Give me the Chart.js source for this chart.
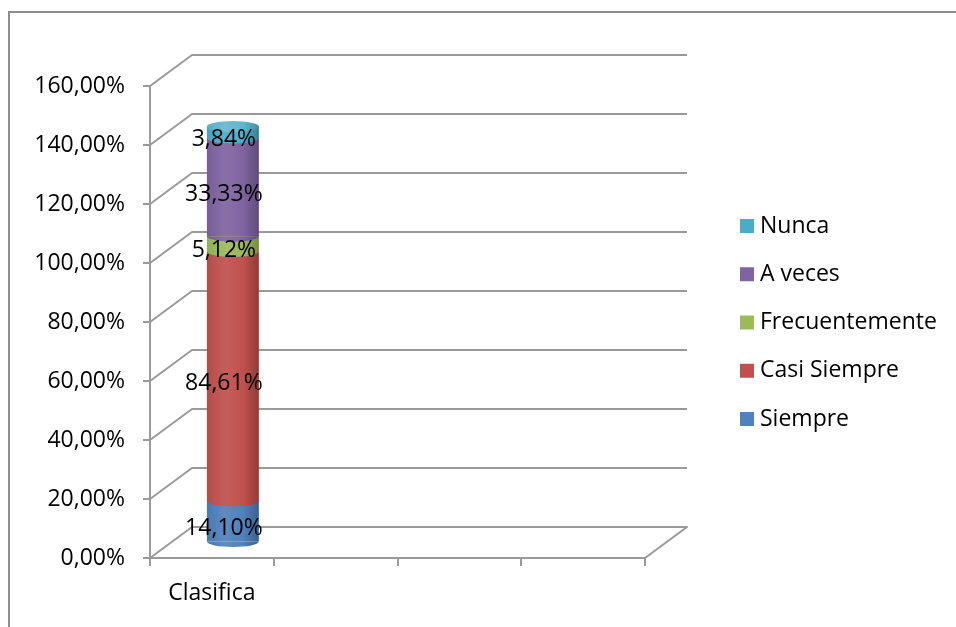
<!DOCTYPE html>
<html>
<head>
<meta charset="utf-8">
<script src="https://cdn.jsdelivr.net/npm/chart.js@4.4.0/dist/chart.umd.min.js"></script>
<style>
  html, body { margin: 0; padding: 0; background: #fff; overflow: hidden; }
  #wrap { position: relative; width: 956px; height: 627px; }
  #frame { position: absolute; left: 8px; top: 11px; width: 1000px; height: 700px;
           border: 2px solid #8c8c8c; pointer-events: none; }
  canvas { position: absolute; left: 0; top: 0; }
</style>
</head>
<body>
<div id="wrap">
  <canvas id="chartCanvas" width="956" height="627"></canvas>
  <div id="frame"></div>
</div>
<script>
//data
const categories = ["Clasifica", "", "", ""];
const seriesNames = ["Siempre", "Casi Siempre", "Frecuentemente", "A veces", "Nunca"];
const seriesValues = [14.10, 84.61, 5.12, 33.33, 3.84];
const seriesColors = ["#4F81BD", "#C0504D", "#9BBB59", "#8064A2", "#4BACC6"];
const yMin = 0;
const yMax = 160;
const yStep = 20;

//3d look
const depthX = 42;
const depthY = -31;
const barPct = 0.42;
const capRy = 5.5;
const gridColor = "#9a9a9a";

function pct(v) {
  return v.toFixed(2).replace(".", ",") + "%";
}

function shade(hex, f) {
  const n = parseInt(hex.slice(1), 16);
  let r = (n >> 16) & 255, g = (n >> 8) & 255, b = n & 255;
  const m = (c) => Math.max(0, Math.min(255, Math.round(f >= 1 ? c + (255 - c) * (f - 1) : c * f)));
  return "rgb(" + m(r) + "," + m(g) + "," + m(b) + ")";
}

function cylGrad(chart, color, light) {
  const ca = chart.chartArea;
  if (!ca) return color;
  const cx = chart.scales.x.getPixelForValue(0);
  const half = (ca.width / categories.length) * barPct / 2;
  const g = chart.ctx.createLinearGradient(cx - half, 0, cx + half, 0);
  const k = light ? 1.12 : 1;
  g.addColorStop(0, shade(color, 0.94 * k));
  g.addColorStop(0.35, shade(color, 1.08 * k));
  g.addColorStop(0.7, shade(color, 1.0 * k));
  g.addColorStop(1, shade(color, 0.75 * k));
  return g;
}

//back walls, cylinder caps, labels, legend
const threeD = {
  id: "threeD",
  beforeDatasetsDraw(chart) {
    const ctx = chart.ctx;
    const ca = chart.chartArea;
    const ys = chart.scales.y;
    ctx.save();
    ctx.strokeStyle = gridColor;
    ctx.lineWidth = 2;
    ctx.lineJoin = "round";
    for (let v = yMin; v <= yMax; v += yStep) {
      const y = ys.getPixelForValue(v);
      ctx.beginPath();
      ctx.moveTo(ca.left, y);
      ctx.lineTo(ca.left + depthX, y + depthY);
      ctx.lineTo(ca.right + depthX, y + depthY);
      if (v === yMin) ctx.lineTo(ca.right, y);
      ctx.stroke();
    }
    ctx.restore();
    ctx.save();
    ctx.translate(depthX / 2, depthY / 2);
  },
  afterDatasetsDraw(chart) {
    const ctx = chart.ctx;
    //curved segment bottoms and top cap
    let topEl = null, topIdx = 0;
    seriesNames.forEach((n, i) => {
      const el = chart.getDatasetMeta(i).data[0];
      if (!el) return;
      ctx.beginPath();
      ctx.ellipse(el.x, el.base, el.width / 2, capRy, 0, 0, Math.PI);
      ctx.fillStyle = cylGrad(chart, seriesColors[i]);
      ctx.fill();
      topEl = el;
      topIdx = i;
    });
    if (topEl) {
      ctx.beginPath();
      ctx.ellipse(topEl.x, topEl.y, topEl.width / 2, capRy, 0, 0, Math.PI * 2);
      ctx.fillStyle = cylGrad(chart, seriesColors[topIdx], true);
      ctx.fill();
    }
    ctx.restore();

    //data labels
    ctx.save();
    ctx.font = "23px 'Open Sans'";
    ctx.fillStyle = "#000";
    ctx.textAlign = "center";
    ctx.textBaseline = "middle";
    seriesNames.forEach((n, i) => {
      const el = chart.getDatasetMeta(i).data[0];
      if (!el) return;
      ctx.fillText(pct(seriesValues[i]), el.x + 12, (el.y + el.base) / 2 - 8.5);
    });
    ctx.restore();
  },
  afterDraw(chart) {
    const ctx = chart.ctx;
    ctx.save();
    ctx.font = "23px 'Open Sans'";
    ctx.textBaseline = "middle";
    ctx.textAlign = "left";
    const order = seriesNames.map((n, i) => i).reverse();
    order.forEach((i, k) => {
      const y = 226 + k * 48.25;
      ctx.fillStyle = seriesColors[i];
      ctx.fillRect(740, y - 7, 14, 14);
      ctx.fillStyle = "#000";
      ctx.fillText(seriesNames[i], 760, y);
    });
    ctx.restore();
  },
};

Chart.defaults.font.family = "'Open Sans'";
Chart.defaults.font.size = 23;
Chart.defaults.color = "#000";

const chart = new Chart(document.getElementById("chartCanvas"), {
  type: "bar",
  data: {
    labels: categories,
    datasets: seriesNames.map((n, i) => ({
      label: n,
      data: categories.map((c, j) => (j === 0 ? seriesValues[i] : null)),
      backgroundColor: (ctx) => cylGrad(ctx.chart, seriesColors[i]),
      borderWidth: 0,
      barPercentage: barPct,
      categoryPercentage: 1,
      clip: false,
    })),
  },
  options: {
    responsive: false,
    animation: false,
    devicePixelRatio: 1,
    layout: { padding: { left: 0, top: 86, right: 311, bottom: 0 } },
    plugins: { legend: { display: false }, tooltip: { enabled: false } },
    scales: {
      x: {
        stacked: true,
        grid: { drawOnChartArea: false, color: gridColor, lineWidth: 2, tickLength: 8 },
        border: { color: gridColor, width: 2 },
        ticks: { padding: 14, maxRotation: 0 },
        afterFit: (s) => { s.height = 69; },
      },
      y: {
        stacked: true,
        min: yMin,
        max: yMax,
        grid: { drawOnChartArea: false, color: gridColor, lineWidth: 2, tickLength: 7 },
        border: { color: gridColor, width: 2 },
        ticks: { stepSize: yStep, padding: 18, callback: (v) => pct(v) },
        afterFit: (s) => { s.width = 150; },
      },
    },
  },
  plugins: [threeD],
});
</script>
</body>
</html>
